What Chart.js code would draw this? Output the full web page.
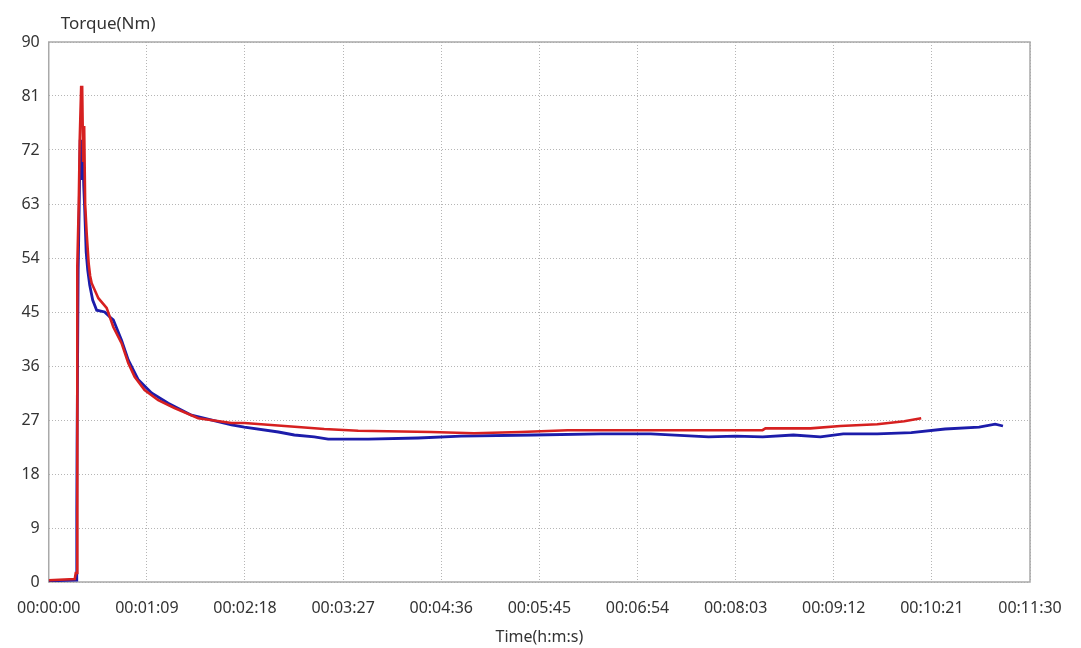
<!DOCTYPE html>
<html>
<head>
<meta charset="utf-8">
<script src="https://cdn.jsdelivr.net/npm/chart.js@4/dist/chart.umd.min.js"></script>
<style>
html,body{margin:0;padding:0;background:#fff;}
#wrap{width:1081px;height:648px;position:relative;}
</style>
</head>
<body>
<div id="wrap"><canvas id="c" width="1081" height="648"></canvas></div>
<script>
// Time in seconds, torque in Nm
const redTime = [0, 18.3, 19.0, 20.0, 20.1, 21.1, 21.8, 22.8, 23.5, 24.2, 24.9, 25.6, 26.7, 28.1, 29.1, 30.2, 34.9, 40.7, 45.4, 51.2, 55.9, 60.4, 67.4, 77.0, 88.4, 105.1, 128.5, 137.6, 177.6, 193.7, 217.6, 268.8, 299, 332, 365, 423.3, 501.9, 504, 535.6, 556.6, 582.6, 601.6, 613.5];
const redTorque = [0.3, 0.5, 1.5, 1.5, 52.8, 63, 73.7, 82.5, 82.5, 70, 76, 63, 58, 53, 51, 49.8, 47.3, 45.7, 42.5, 39.8, 36.5, 34.2, 32, 30.3, 29, 27.3, 26.5, 26.5, 25.8, 25.5, 25.2, 25.0, 24.8, 25.0, 25.3, 25.3, 25.3, 25.6, 25.6, 26.0, 26.3, 26.8, 27.3];

const blueTime = [0, 19.3, 19.7, 19.9, 20.7, 21.4, 22.1, 23.2, 23.9, 24.6, 25.3, 26.3, 27.4, 28.8, 30.9, 33.7, 39.3, 42.8, 45.4, 51.2, 55.9, 63.0, 72.3, 84.0, 100.4, 128.5, 137.6, 161.5, 172.7, 186.7, 196.5, 224.6, 259.7, 289.9, 341.1, 388.2, 423.3, 464, 483, 502, 523.6, 542.6, 558.7, 582.6, 606.5, 630.3, 654.2, 665.5, 671];
const blueTorque = [0.2, 0.3, 12, 23, 52, 62, 73.7, 67, 73.7, 66, 62, 55, 52, 49.5, 47, 45.3, 45.0, 44.2, 43.7, 40.3, 37, 33.7, 31.5, 29.8, 27.8, 26.2, 25.8, 25.0, 24.5, 24.2, 23.8, 23.8, 24.0, 24.3, 24.5, 24.7, 24.7, 24.2, 24.3, 24.2, 24.5, 24.2, 24.7, 24.7, 24.9, 25.5, 25.8, 26.3, 26.0];

const xTickSeconds = [0, 69, 138, 207, 276, 345, 414, 483, 552, 621, 690];
const yTicks = [0, 9, 18, 27, 36, 45, 54, 63, 72, 81, 90];
const yAxisLabel = 'Torque(Nm)';
const xAxisLabel = 'Time(h:m:s)';

function fmt(s){
  s = Math.round(s);
  const h = Math.floor(s/3600), m = Math.floor((s%3600)/60), sec = s%60;
  const p = n => String(n).padStart(2,'0');
  return p(h)+':'+p(m)+':'+p(sec);
}
function pts(t, v){ return t.map((x,i)=>({x:x, y:v[i]})); }

const FONT = '"Noto Sans", "DejaVu Sans", sans-serif';

const framePlugin = {
  id:'frame',
  beforeDatasetsDraw(chart){
    const {ctx, chartArea:a} = chart;
    ctx.save();
    ctx.strokeStyle = '#a9a9a9';
    ctx.lineWidth = 1.5;
    ctx.strokeRect(a.left, a.top, a.right-a.left, a.bottom-a.top);
    ctx.restore();
  },
  afterDraw(chart){
    const {ctx, chartArea:a} = chart;
    ctx.save();
    ctx.font = '17px ' + FONT;
    ctx.fillStyle = '#333';
    ctx.textBaseline = 'middle';
    ctx.textAlign = 'left';
    ctx.fillText(yAxisLabel, a.left + 12, a.top - 18);
    ctx.restore();
  }
};

new Chart(document.getElementById('c'), {
  type:'line',
  data:{
    datasets:[
      {data: pts(redTime, redTorque), borderColor:'rgb(214,32,32)', borderWidth:2.6, pointRadius:0, tension:0, fill:false},
      {data: pts(blueTime, blueTorque), borderColor:'rgb(28,28,170)', borderWidth:2.8, pointRadius:0, tension:0, fill:false}
    ]
  },
  options:{
    responsive:false,
    animation:false,
    parsing:false,
    layout:{padding:{top:42, right:51, bottom:0, left:0}},
    plugins:{legend:{display:false}, tooltip:{enabled:false}, title:{display:false}},
    scales:{
      x:{
        type:'linear', min:0, max:690,
        afterBuildTicks(scale){ scale.ticks = xTickSeconds.map(v=>({value:v})); },
        ticks:{autoSkip:false, maxRotation:0, color:'#333', font:{family:FONT, size:16}, padding:17,
          callback:(v)=>fmt(v)},
        grid:{color:'#b5b5b5', lineWidth:1, drawTicks:false},
        border:{display:false, dash:[1,2]},
        title:{display:true, text:xAxisLabel, color:'#333', font:{family:FONT, size:16}, padding:{top:2,bottom:1}},
        afterFit(scale){ scale.height = 648 - 582; }
      },
      y:{
        min:0, max:90,
        afterBuildTicks(scale){ scale.ticks = yTicks.map(v=>({value:v})); },
        ticks:{color:'#333', font:{family:FONT, size:16}, padding:9},
        grid:{color:'#b5b5b5', lineWidth:1, drawTicks:false},
        border:{display:false, dash:[1,2]},
        afterFit(scale){ scale.width = 47; }
      }
    }
  },
  plugins:[framePlugin]
});
</script>
</body>
</html>
